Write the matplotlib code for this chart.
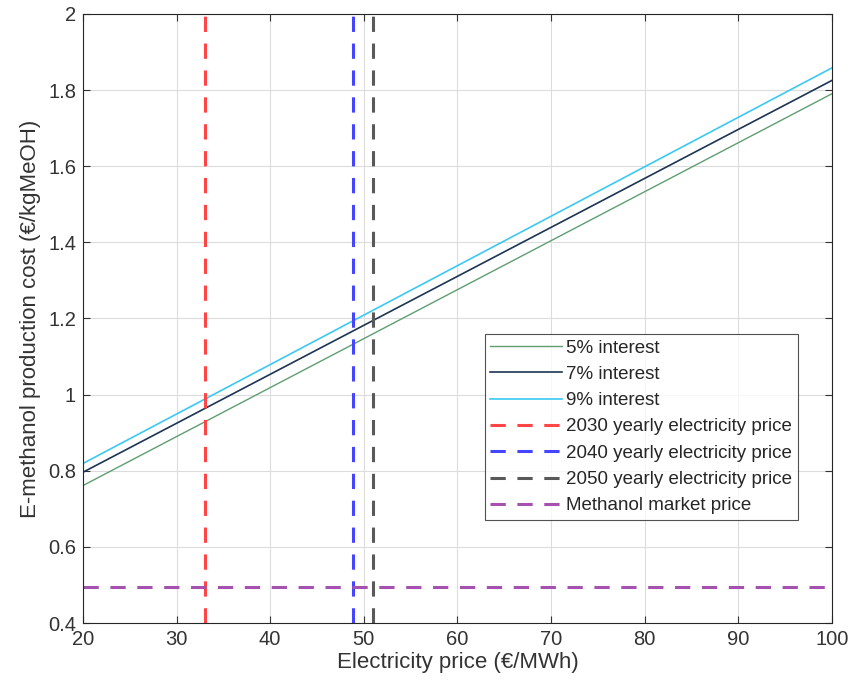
import numpy as np
import matplotlib
matplotlib.use("Agg")
import matplotlib.pyplot as plt

plt.rcParams['font.family'] = ['Liberation Sans', 'DejaVu Sans']

# Electricity price range (€/MWh) and production cost at the range ends (€/kgMeOH)
price_ends = [20, 100]
cost_5pct = [0.761, 1.790]
cost_7pct = [0.796, 1.825]
cost_9pct = [0.819, 1.858]

# Reference prices
elec_2030 = 33.05
elec_2040 = 48.9
elec_2050 = 51.0
methanol_market = 0.495

xticks = [20, 30, 40, 50, 60, 70, 80, 90, 100]
yticks = [0.4, 0.6, 0.8, 1.0, 1.2, 1.4, 1.6, 1.8, 2.0]
ytick_labels = ['0.4', '0.6', '0.8', '1', '1.2', '1.4', '1.6', '1.8', '2']

fig = plt.figure(figsize=(8.5, 6.93), dpi=100)
ax = fig.add_axes([0.0976, 0.101, 0.881, 0.879])

ax.plot(price_ends, cost_5pct, color='#5f9e70', lw=1.0, label='5% interest')
ax.plot(price_ends, cost_7pct, color='#1c3553', lw=1.2, label='7% interest')
ax.plot(price_ends, cost_9pct, color='#3cc8f5', lw=1.2, label='9% interest')

dash = (0, (5, 3.8))
ax.axvline(elec_2030, color='#ff4545', lw=2.2, linestyle=dash, label='2030 yearly electricity price')
ax.axvline(elec_2040, color='#4545ff', lw=2.2, linestyle=dash, label='2040 yearly electricity price')
ax.axvline(elec_2050, color='#595959', lw=2.2, linestyle=dash, label='2050 yearly electricity price')
ax.axhline(methanol_market, color='#a451b0', lw=2.2, linestyle=dash, label='Methanol market price')

ax.set_xlim(20, 100)
ax.set_ylim(0.4, 2.0)
ax.set_xticks(xticks)
ax.set_yticks(yticks)
ax.set_yticklabels(ytick_labels)
ax.grid(True, color='#dcdcdc', lw=0.8)
ax.set_axisbelow(True)
ax.tick_params(direction='in', top=True, right=True, length=5, labelsize=14.5, colors='#333333', pad=5)
for s in ax.spines.values():
    s.set_color('#262626')
    s.set_linewidth(0.8)

ax.set_xlabel('Electricity price (€/MWh)', fontsize=16, color='#333333', labelpad=2)
ax.set_ylabel('E-methanol production cost (€/kgMeOH)', fontsize=16, color='#333333', labelpad=5)

leg = ax.legend(loc='lower right', bbox_to_anchor=(0.9546, 0.169), fontsize=13.5,
                frameon=True, fancybox=False, edgecolor='#262626',
                handlelength=3.85, handletextpad=0.2, labelspacing=0.49,
                borderpad=0.3, borderaxespad=0)
leg.get_frame().set_linewidth(0.8)
for t in leg.get_texts():
    t.set_color('#262626')

fig.savefig('out.png', dpi=100)
